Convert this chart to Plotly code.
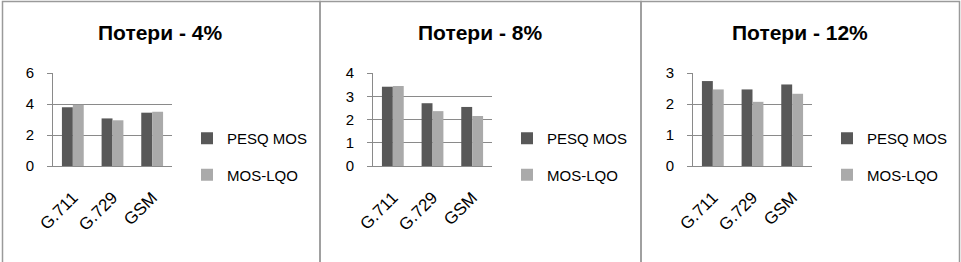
import plotly.graph_objects as go

W, H = 961, 262

categories = ["G.711", "G.729", "GSM"]
titles = ["Потери - 4%", "Потери - 8%", "Потери - 12%"]
series_names = ["PESQ MOS", "MOS-LQO"]

pesq_4 = [3.79, 3.07, 3.44]
lqo_4 = [3.95, 2.95, 3.5]
pesq_8 = [3.41, 2.70, 2.54]
lqo_8 = [3.44, 2.36, 2.15]
pesq_12 = [2.74, 2.47, 2.63]
lqo_12 = [2.47, 2.07, 2.33]

y_max = [6, 4, 3]
y_dtick = [2, 1, 1]

pesq_all = [pesq_4, pesq_8, pesq_12]
lqo_all = [lqo_4, lqo_8, lqo_12]

DARK = "#585858"
LIGHT = "#AAAAAA"
GRID = "#8A8A8A"
FONT = "Liberation Sans, Arial, sans-serif"

panel_off = [0, 320, 640]

def px(x):
    return x / W

def py(y):
    return 1 - y / H

fig = go.Figure()
layout = dict(
    template="none",
    width=W, height=H, autosize=False,
    margin=dict(l=0, r=0, t=0, b=0, pad=0),
    paper_bgcolor="white", plot_bgcolor="white",
    barmode="group", bargap=0.45, bargroupgap=0,
    font=dict(family=FONT, color="#000000"),
    showlegend=True,
)

annotations = []
shapes = []

for i in range(3):
    off = panel_off[i]
    xa = "x" if i == 0 else f"x{i+1}"
    ya = "y" if i == 0 else f"y{i+1}"
    lg = "legend" if i == 0 else f"legend{i+1}"
    fig.add_trace(go.Bar(x=categories, y=pesq_all[i], name=series_names[0],
                         marker=dict(color=DARK, line=dict(width=0)),
                         xaxis=xa, yaxis=ya, legend=lg, legendgroup=f"a{i}"))
    fig.add_trace(go.Bar(x=categories, y=lqo_all[i], name=series_names[1],
                         marker=dict(color=LIGHT, line=dict(width=0)),
                         xaxis=xa, yaxis=ya, legend=lg, legendgroup=f"b{i}"))
    xkey = "xaxis" if i == 0 else f"xaxis{i+1}"
    ykey = "yaxis" if i == 0 else f"yaxis{i+1}"
    layout[xkey] = dict(
        domain=[px(off + 53), px(off + 172)], anchor=ya,
        showline=True, linecolor=GRID, linewidth=1,
        showgrid=False, ticks="", tickangle=-45,
        tickfont=dict(size=17, family=FONT, color="#000"),
        ticklabelstandoff=14, automargin=False,
        fixedrange=True,
    )
    layout[ykey] = dict(
        domain=[py(166), py(73)], anchor=xa,
        range=[0, y_max[i]], dtick=y_dtick[i], tick0=0,
        showline=True, linecolor=GRID, linewidth=1,
        showgrid=True, gridcolor=GRID, gridwidth=1,
        ticks="outside", ticklen=5, tickcolor=GRID,
        tickfont=dict(size=15, family=FONT, color="#000"),
        ticklabelstandoff=10, automargin=False,
        zeroline=False, fixedrange=True,
    )
    layout[lg] = dict(
        x=px(off + 187), y=py(122), xanchor="left", yanchor="top",
        bgcolor="rgba(0,0,0,0)", borderwidth=0,
        font=dict(size=15, family=FONT, color="#000"),
        tracegroupgap=14, itemwidth=30,
        traceorder="grouped",
    )
    annotations.append(dict(
        text=f"<b>{titles[i]}</b>", x=px(off + 160), y=py(33),
        xref="paper", yref="paper", xanchor="center", yanchor="middle",
        showarrow=False, font=dict(size=21, family=FONT, color="#000"),
    ))

# panel borders
border = "#9A9A9A"
for (x0, x1) in [(2.5, 320), (320, 641), (641, 959.5)]:
    shapes.append(dict(type="rect", xref="paper", yref="paper",
                       x0=px(x0), x1=px(x1), y0=py(H + 5), y1=py(1.5),
                       line=dict(color=border, width=1.5), layer="above"))

layout["annotations"] = annotations
layout["shapes"] = shapes
fig.update_layout(**layout)

fig.write_html("out.html", config={"displayModeBar": False},
               post_script="document.body.style.margin='0';")
